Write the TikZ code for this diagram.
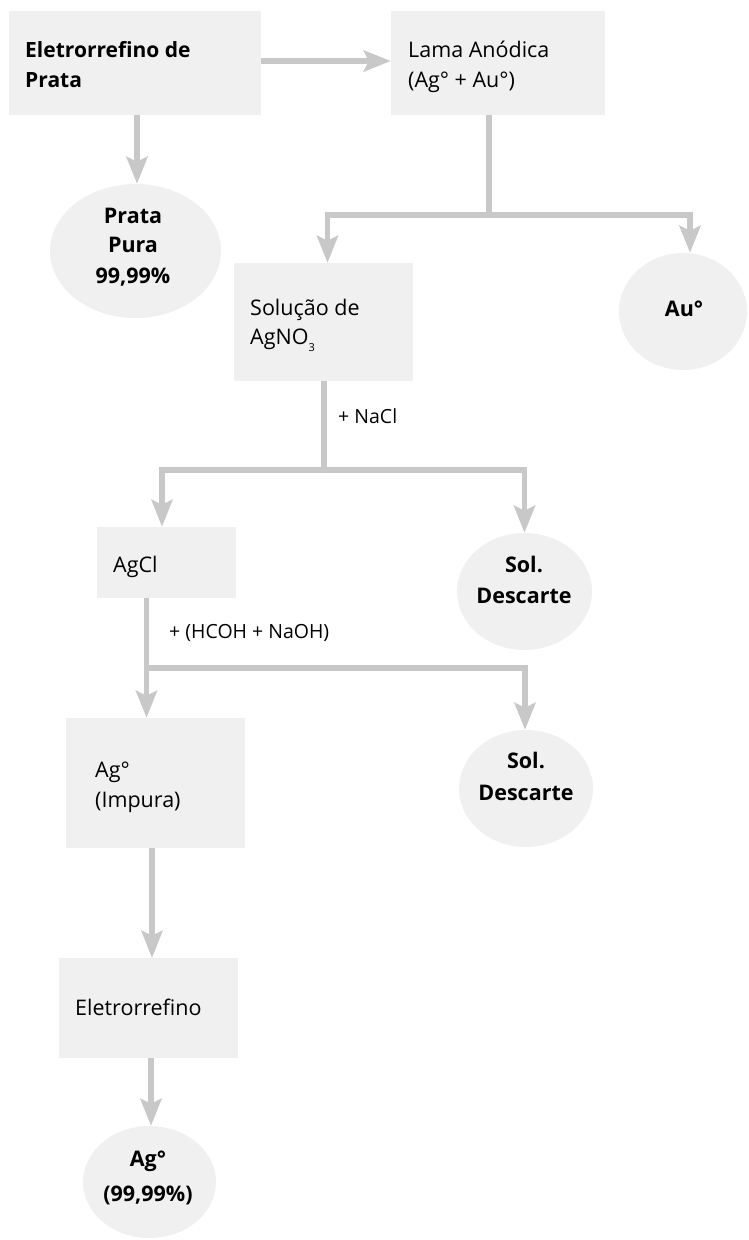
\documentclass[tikz,border=0pt]{standalone}
\usepackage{fontspec}
\setmainfont{Open Sans}
\usetikzlibrary{arrows.meta,shapes.geometric}
\definecolor{boxgray}{HTML}{F0F0F0}
\definecolor{linegray}{HTML}{C8C8C8}
\tikzset{
  box/.style={draw=none,fill=boxgray,rectangle,inner sep=0pt},
  oval/.style={draw=none,fill=boxgray,ellipse,inner sep=0pt},
  conn/.style={draw=linegray,line width=5.5pt},
  arr/.style={conn,-{Stealth[length=27pt,width=21pt,inset=5pt]}},
  txt/.style={anchor=base west,inner sep=0pt,font=\fontsize{21.5}{30}\selectfont},
  btxt/.style={anchor=base,inner sep=0pt,font=\fontsize{21.5}{30}\selectfont\bfseries},
  lbl/.style={anchor=base west,inner sep=0pt,font=\fontsize{19.5}{24}\selectfont}
}
\begin{document}
\begin{tikzpicture}[x=1pt,y=-1pt]
\useasboundingbox (0,0) rectangle (748,1240);
% shapes
\node[box,minimum width=252pt,minimum height=104pt] (b1) at (135,63) {};
\node[box,minimum width=214pt,minimum height=104pt] (b2) at (498,63) {};
\node[oval,minimum width=171pt,minimum height=134pt] (e1) at (135.5,251) {};
\node[box,minimum width=179pt,minimum height=118pt] (b3) at (323.5,322) {};
\node[oval,minimum width=128pt,minimum height=117pt] (e2) at (683,311.5) {};
\node[box,minimum width=139pt,minimum height=71pt] (b4) at (166.5,562.5) {};
\node[oval,minimum width=135pt,minimum height=117pt] (e3) at (524.5,591.5) {};
\node[box,minimum width=179pt,minimum height=130pt] (b5) at (155.5,783) {};
\node[oval,minimum width=134pt,minimum height=117pt] (e4) at (526,788.5) {};
\node[box,minimum width=179pt,minimum height=100pt] (b6) at (148.5,1008) {};
\node[oval,minimum width=133pt,minimum height=112pt] (e5) at (149.5,1182) {};
% texts
\node[txt,font=\fontsize{21}{30}\selectfont\bfseries] (t1a) at (25,57) {Eletrorrefino de};
\node[txt,font=\fontsize{21}{30}\selectfont\bfseries] (t1b) at (25,87) {Prata};
\node[txt] (t2a) at (408,57) {Lama Anódica};
\node[txt] (t2b) at (408,87) {(Ag° + Au°)};
\node[btxt] (te1a) at (133,223) {Prata};
\node[btxt] (te1b) at (133,252) {Pura};
\node[btxt] (te1c) at (133,283) {99,99\%};
\node[txt] (t3a) at (250,315.5) {Solução de};
\node[txt] (t3b) at (250,344.5) {AgNO\raisebox{-7pt}{\fontsize{11}{11}\selectfont 3}};
\node[btxt] (te2) at (684,316) {Au°};
\node[lbl] (l1) at (338,423) {+ NaCl};
\node[txt] (t4) at (113,572) {AgCl};
\node[btxt] (te3a) at (524,572) {Sol.};
\node[btxt] (te3b) at (524,603) {Descarte};
\node[lbl] (l2) at (169,638) {+ (HCOH + NaOH)};
\node[txt] (t5a) at (95,777) {Ag°};
\node[txt] (t5b) at (95,807) {(Impura)};
\node[btxt] (te4a) at (526,768) {Sol.};
\node[btxt] (te4b) at (526,800) {Descarte};
\node[txt] (t6) at (75,1015) {Eletrorrefino};
\node[btxt] (te5a) at (148,1166) {Ag°};
\node[btxt] (te5b) at (148,1201) {(99,99\%)};
% junctions
\coordinate (j1) at (489,215);
\coordinate (j2) at (324,470);
\coordinate (j3) at (146.5,668);
% connectors
\draw[arr] ([yshift=2pt]b1.east) -- ([yshift=2pt]b2.west);
\draw[arr] ([xshift=2pt]b1.south) -- ([xshift=1.5pt]e1.north);
\draw[conn] (b2.south -| j1) -- (j1);
\draw[arr] ([xshift=2.75pt]j1) -| ([xshift=4pt]b3.north);
\draw[arr] ([xshift=-2.75pt]j1) -| ([xshift=7pt]e2.north);
\draw[conn] (b3.south -| j2) -- (j2);
\draw[arr] ([xshift=2.75pt]j2) -| ([xshift=-4.5pt]b4.north);
\draw[arr] ([xshift=-2.75pt]j2) -| (e3.north);
\draw[conn] (b4.south -| j3) -- (j3);
\draw[arr] (j3) -- (j3 |- b5.north);
\draw[arr] ([xshift=-2.75pt]j3) -| ([xshift=-1pt]e4.north);
\draw[arr] ([xshift=-3.5pt]b5.south) -- ([xshift=3.5pt]b6.north);
\draw[arr] ([xshift=2.5pt]b6.south) -- ([xshift=1.5pt]e5.north);
\end{tikzpicture}
\end{document}
